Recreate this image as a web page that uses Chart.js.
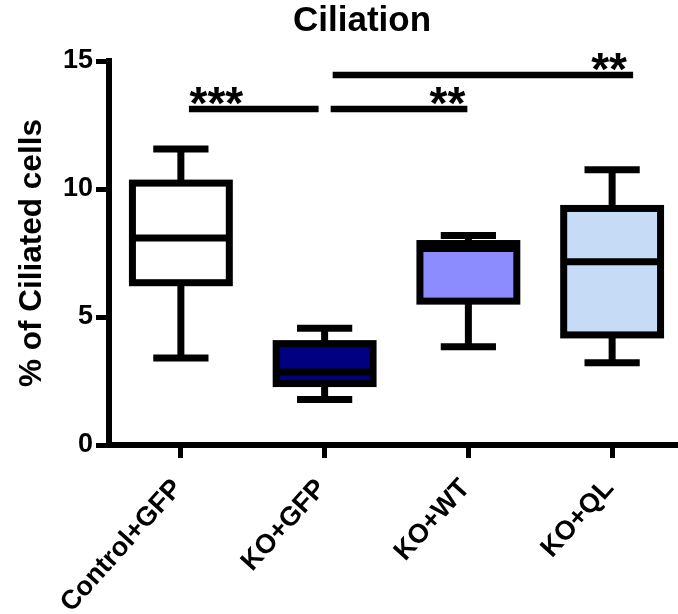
<!DOCTYPE html>
<html>
<head>
<meta charset="utf-8">
<script src="https://cdn.jsdelivr.net/npm/chart.js@4.4.1/dist/chart.umd.min.js"></script>
<style>
  html, body { margin: 0; padding: 0; background: #fff; }
  #wrap { width: 678px; height: 614px; overflow: hidden; position: relative; }
  canvas { position: absolute; left: 0; top: 0; }
</style>
</head>
<body>
<div id="wrap"><canvas id="chart" width="700" height="614"></canvas></div>
<script>
// Box plot values
const categories = ['Control+GFP', 'KO+GFP', 'KO+WT', 'KO+QL'];
const whiskerLow  = [3.40, 1.78, 3.84, 3.21];
const q1          = [6.34, 2.40, 5.62, 4.30];
const median      = [8.09, 2.85, 7.68, 7.16];
const q3          = [10.23, 3.96, 7.87, 9.24];
const whiskerHigh = [11.56, 4.56, 8.18, 10.75];
const boxColors   = ['#ffffff', '#000080', '#8c8cff', '#c6dbf5'];

// significance brackets (x in category index units, y in % units)
const sigFrom  = [0.056, 1.042, 1.056];
const sigTo    = [0.958, 1.993, 3.146];
const sigY     = [13.125, 13.125, 14.45];
const sigText  = ['***', '**', '**'];
const sigTextX = [0.247, 1.854, 2.979];

const yTicks = [0, 5, 10, 15];

const FONT = "'Liberation Sans', Arial, sans-serif";
const LW = 7;

/** Whiskers, box outlines, medians and brackets, all placed via the chart scales */
const boxPlot = {
  id: 'boxPlot',
  afterDatasetsDraw(chart) {
    const { ctx, scales: { x, y } } = chart;
    const bars = chart.getDatasetMeta(0).data;
    ctx.save();
    ctx.strokeStyle = '#000';
    ctx.lineWidth = LW;
    ctx.lineCap = 'butt';

    const seg = (x1, y1, x2, y2) => {
      ctx.beginPath();
      ctx.moveTo(x1, y1);
      ctx.lineTo(x2, y2);
      ctx.stroke();
    };

    bars.forEach((bar, i) => {
      const half = bar.width / 2;
      const cap = bar.width * 0.285;
      const top = y.getPixelForValue(q3[i]);
      const bot = y.getPixelForValue(q1[i]);
      const hi = y.getPixelForValue(whiskerHigh[i]);
      const lo = y.getPixelForValue(whiskerLow[i]);
      const med = y.getPixelForValue(median[i]);

      seg(bar.x, top, bar.x, hi);
      seg(bar.x - cap, hi, bar.x + cap, hi);
      seg(bar.x, bot, bar.x, lo);
      seg(bar.x - cap, lo, bar.x + cap, lo);
      ctx.strokeRect(bar.x - half, top, bar.width, bot - top);
      seg(bar.x - half, med, bar.x + half, med);
    });

    ctx.lineWidth = 6.5;
    ctx.fillStyle = '#000';
    ctx.font = 'bold 46px ' + FONT;
    ctx.textAlign = 'center';
    ctx.textBaseline = 'alphabetic';
    sigFrom.forEach((from, i) => {
      const py = y.getPixelForValue(sigY[i]);
      seg(x.getPixelForValue(from), py, x.getPixelForValue(sigTo[i]), py);
      ctx.fillText(sigText[i], x.getPixelForValue(sigTextX[i]), py + 10);
    });
    ctx.restore();
  }
};

new Chart(document.getElementById('chart'), {
  type: 'bar',
  data: {
    labels: categories,
    datasets: [{
      data: q1.map((v, i) => [v, q3[i]]),
      backgroundColor: boxColors,
      borderWidth: 0,
      barPercentage: 0.674,
      categoryPercentage: 1,
    }],
  },
  options: {
    responsive: false,
    animation: false,
    events: [],
    layout: { padding: { left: 40, right: 16, top: 0, bottom: 0 } },
    plugins: {
      legend: { display: false },
      tooltip: { enabled: false },
      title: {
        display: true,
        text: 'Ciliation',
        color: '#000',
        font: { family: FONT, size: 35, weight: 'bold', lineHeight: 1 },
        padding: { top: 4, bottom: 22 },
      },
    },
    scales: {
      x: {
        offset: true,
        border: { display: true, color: '#000', width: 6 },
        grid: { display: true, offset: false, drawOnChartArea: false, drawTicks: true,
                tickLength: 13, tickWidth: 5, tickColor: '#000' },
        ticks: { color: '#000', font: { family: FONT, size: 27, weight: 'bold' },
                 minRotation: 48, maxRotation: 48, autoSkip: false, padding: 15, labelOffset: -3 },
        afterFit: (s) => { s.height = 169; },
      },
      y: {
        min: 0,
        max: 15,
        border: { display: true, color: '#000', width: 6 },
        grid: { display: true, drawOnChartArea: false, drawTicks: true,
                tickLength: 13, tickWidth: 5, tickColor: '#000' },
        afterBuildTicks: (s) => { s.ticks = yTicks.map(v => ({ value: v })); },
        ticks: { color: '#000', font: { family: FONT, size: 27, weight: 'bold' }, padding: 3 },
        title: {
          display: true,
          text: '% of Ciliated cells',
          color: '#000',
          font: { family: FONT, size: 31.5, weight: 'bold', lineHeight: 1 },
          padding: { top: -23.5, bottom: 0 },
        },
        afterFit: (s) => { s.width = 69; },
      },
    },
  },
  plugins: [boxPlot],
});
</script>
</body>
</html>
